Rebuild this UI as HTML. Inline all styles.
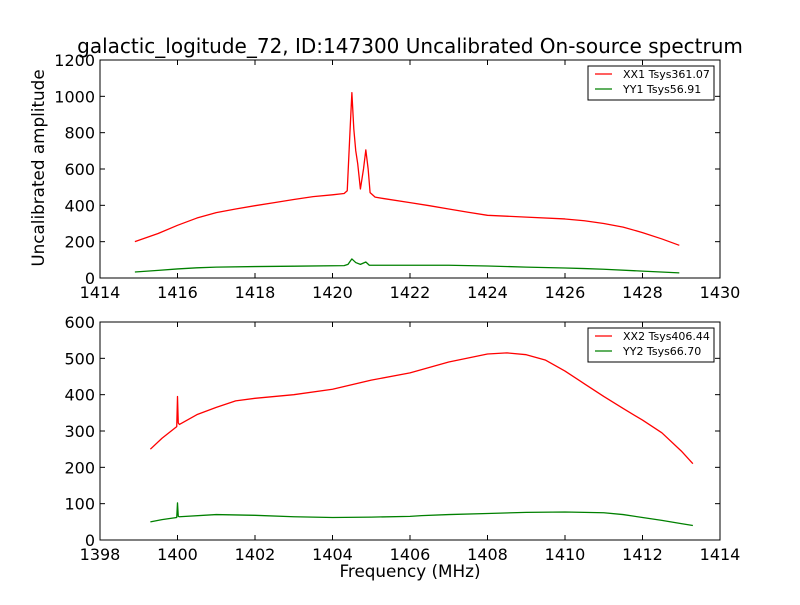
<!DOCTYPE html>
<html><head><meta charset="utf-8"><style>
body{margin:0;background:#fff;}
svg text{font-family:"DejaVu Sans","Liberation Sans",sans-serif;}
</style></head><body>
<svg id="chart" width="800" height="600" xmlns="http://www.w3.org/2000/svg">
<rect width="800" height="600" fill="#fff"/>
<text x="410" y="53" font-size="20" text-anchor="middle">galactic_logitude_72, ID:147300 Uncalibrated On-source spectrum</text>
<text transform="translate(44,168) rotate(-90)" font-size="16.8" text-anchor="middle">Uncalibrated amplitude</text>
<text x="410" y="577" font-size="16.8" text-anchor="middle">Frequency (MHz)</text>
<g id="top"></g>
<g id="bot"></g>
</svg>
<script>
const topXX1F=[1414.9,1415.5,1416,1416.5,1417,1417.5,1418,1418.5,1419,1419.5,1420,1420.3,1420.38,1420.45,1420.5,1420.55,1420.6,1420.65,1420.72,1420.8,1420.86,1420.92,1420.97,1421.1,1421.3,1422,1422.5,1423,1423.5,1424,1425,1426,1426.5,1427,1427.5,1428,1428.5,1428.95];
const topXX1V=[200,245,290,330,360,380,398,415,432,448,458,465,480,800,1020,820,700,630,490,600,705,600,470,445,438,415,398,380,362,345,335,325,315,300,280,250,215,180];
const topYY1F=[1414.9,1415.5,1416,1416.5,1417,1418,1419,1420.3,1420.4,1420.5,1420.6,1420.72,1420.86,1420.95,1421.1,1422,1423,1424,1425,1426,1426.5,1427,1428,1428.95];
const topYY1V=[33,42,50,56,60,63,65,68,75,105,85,75,88,70,70,70,70,66,60,55,52,48,38,28];
const botXX2F=[1399.3,1399.6,1399.98,1400,1400.02,1400.05,1400.5,1401,1401.5,1402,1403,1404,1405,1406,1407,1408,1408.5,1409,1409.5,1410,1410.5,1411,1411.5,1412,1412.5,1413,1413.3];
const botXX2V=[250,280,312,395,322,318,345,365,383,390,400,415,440,460,490,512,515,510,495,465,430,395,362,330,295,245,210];
const botYY2F=[1399.3,1399.6,1399.98,1400,1400.02,1400.05,1401,1402,1403,1404,1405,1406,1406.3,1407,1408,1409,1410,1411,1411.5,1412,1412.5,1413,1413.3];
const botYY2V=[50,56,62,102,65,64,70,68,64,62,63,65,67,70,73,76,77,75,70,62,54,45,40];
const topXTicks=[1414,1416,1418,1420,1422,1424,1426,1428,1430];
const topYTicks=[0,200,400,600,800,1000,1200];
const botXTicks=[1398,1400,1402,1404,1406,1408,1410,1412,1414];
const botYTicks=[0,100,200,300,400,500,600];
const NS='http://www.w3.org/2000/svg';
function mk(p,t,a){const e=document.createElementNS(NS,t);for(const k in a)e.setAttribute(k,a[k]);p.appendChild(e);return e;}
function panel(g,y0,y1,xmin,xmax,ymax,xt,yt,series,legend,pref){
  const L=100,R=720;
  const sx=v=>L+(v-xmin)/(xmax-xmin)*(R-L);
  const sy=v=>y1-v/ymax*(y1-y0);
  series.forEach((s,i)=>{
    const d=s.f.map((f,j)=>(j?'L':'M')+sx(f).toFixed(2)+','+sy(s.v[j]).toFixed(2)).join('');
    const p=mk(g,'path',{d:d,fill:'none',stroke:s.c,'stroke-width':1.3,'stroke-linejoin':'round'});
    
    
  });
  const fr=mk(g,'rect',{x:L,y:y0,width:R-L,height:y1-y0,fill:'none',stroke:'#000','stroke-width':1});
  
  
  xt.forEach(v=>{const x=sx(v);
    mk(g,'line',{x1:x,x2:x,y1:y1,y2:y1-5,stroke:'#000'});
    mk(g,'line',{x1:x,x2:x,y1:y0,y2:y0+5,stroke:'#000'});
    const t=mk(g,'text',{x:x,y:y1+20,'font-size':16,'text-anchor':'middle'});t.textContent=v;
    
    });
  yt.forEach(v=>{const y=sy(v);
    mk(g,'line',{x1:L,x2:L+5,y1:y,y2:y,stroke:'#000'});
    mk(g,'line',{x1:R,x2:R-5,y1:y,y2:y,stroke:'#000'});
    const t=mk(g,'text',{x:L-5,y:y+6,'font-size':16,'text-anchor':'end'});t.textContent=v;
    
    });
  const lg=mk(g,'g',{});
  
  
  mk(lg,'rect',{x:588,y:y0+6,width:126,height:34,fill:'#fff',stroke:'#000'});
  legend.forEach((s,i)=>{const yy=y0+14+i*15;
    mk(lg,'line',{x1:595,x2:612,y1:yy,y2:yy,stroke:s.c,'stroke-width':1.2});
    const t=mk(lg,'text',{x:623,y:yy+4,'font-size':11});t.textContent=s.t;
    
    });
}
panel(document.getElementById('top'),60,278,1414,1430,1200,topXTicks,topYTicks,
 [{f:topXX1F,v:topXX1V,c:'#ff0000',n:'XX1'},{f:topYY1F,v:topYY1V,c:'#008000',n:'YY1'}],
 [{c:'#ff0000',t:'XX1 Tsys361.07'},{c:'#008000',t:'YY1 Tsys56.91'}],'top');
panel(document.getElementById('bot'),322,540,1398,1414,600,botXTicks,botYTicks,
 [{f:botXX2F,v:botXX2V,c:'#ff0000',n:'XX2'},{f:botYY2F,v:botYY2V,c:'#008000',n:'YY2'}],
 [{c:'#ff0000',t:'XX2 Tsys406.44'},{c:'#008000',t:'YY2 Tsys66.70'}],'bottom');
</script>
</body></html>
